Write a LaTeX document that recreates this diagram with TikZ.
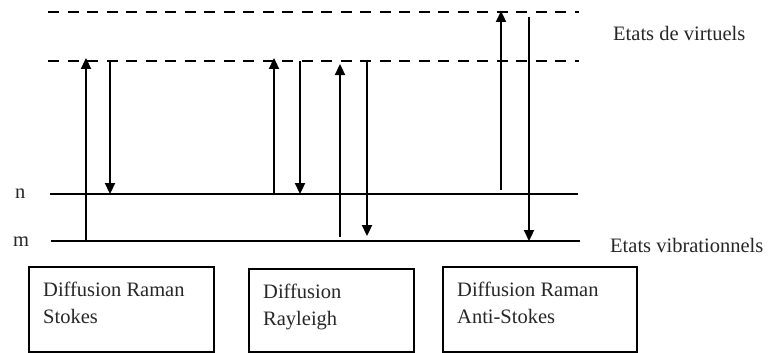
\documentclass[tikz,border=0pt]{standalone}
\usepackage{fontspec}
\setmainfont{Liberation Serif}
\usetikzlibrary{arrows.meta}
\begin{document}
\begin{tikzpicture}[x=1pt,y=-1pt,
  level/.style={line width=2.4pt},
  virt/.style={line width=2.7pt, dash pattern=on 11pt off 8.5pt},
  trans/.style={line width=2.3pt, -{Triangle[width=10pt,length=11pt]}},
  lab/.style={font=\fontsize{20.5}{27}\selectfont, inner sep=0pt, text=black!85},
  box/.style={draw, line width=1.9pt, inner sep=0pt, anchor=north west}]
\useasboundingbox (0,0) rectangle (768,353);
% levels
\coordinate (v2a) at (48,12);  \coordinate (v2b) at (579,12);
\coordinate (v1a) at (48,61);  \coordinate (v1b) at (579,61);
\coordinate (na) at (50,194);  \coordinate (nb) at (578,194);
\coordinate (ma) at (51,241);  \coordinate (mb) at (580,241);
\draw[virt] (v2a) -- (v2b);
\draw[virt] (v1a) -- (v1b);
\draw[level] (na) -- (nb);
\draw[level] (ma) -- (mb);
\node[lab, anchor=base west] (nlab) at (15,198) {n};
\node[lab, anchor=base west] (mlab) at (13,246) {m};
\node[lab, anchor=base west] (virtlab) at (613,41) {Etats de virtuels};
\node[lab, anchor=base west] (viblab) at (610,252) {Etats vibrationnels};
% transition endpoints
\coordinate (s1a) at (86,241);  \coordinate (s1b) at (86,58);
\coordinate (s2a) at (110,61);  \coordinate (s2b) at (110,194);
\coordinate (r1a) at (274,194); \coordinate (r1b) at (274,58);
\coordinate (r2a) at (300,61);  \coordinate (r2b) at (300,194);
\coordinate (r3a) at (340,237); \coordinate (r3b) at (340,64);
\coordinate (r4a) at (367,61);  \coordinate (r4b) at (367,236);
\coordinate (a1a) at (501,190); \coordinate (a1b) at (501,11);
\coordinate (a2a) at (529,17);  \coordinate (a2b) at (529,241);
\foreach \p in {s1,s2,r1,r2,r3,r4,a1,a2} \draw[trans] (\p a) -- (\p b);
% boxes
\node[box, minimum width=185pt, minimum height=85pt] (b1) at (28,266) {};
\node[box, minimum width=165pt, minimum height=83pt] (b2) at (248,268) {};
\node[box, minimum width=194pt, minimum height=85pt] (b3) at (442,266) {};
\node[lab, anchor=base west] (t1a) at (43,296) {Diffusion Raman};
\node[lab, anchor=base west] (t1b) at (43,323) {Stokes};
\node[lab, anchor=base west] (t2a) at (263,298) {Diffusion};
\node[lab, anchor=base west] (t2b) at (263,325) {Rayleigh};
\node[lab, anchor=base west] (t3a) at (457,296) {Diffusion Raman};
\node[lab, anchor=base west] (t3b) at (457,323) {Anti-Stokes};
\end{tikzpicture}
\end{document}
